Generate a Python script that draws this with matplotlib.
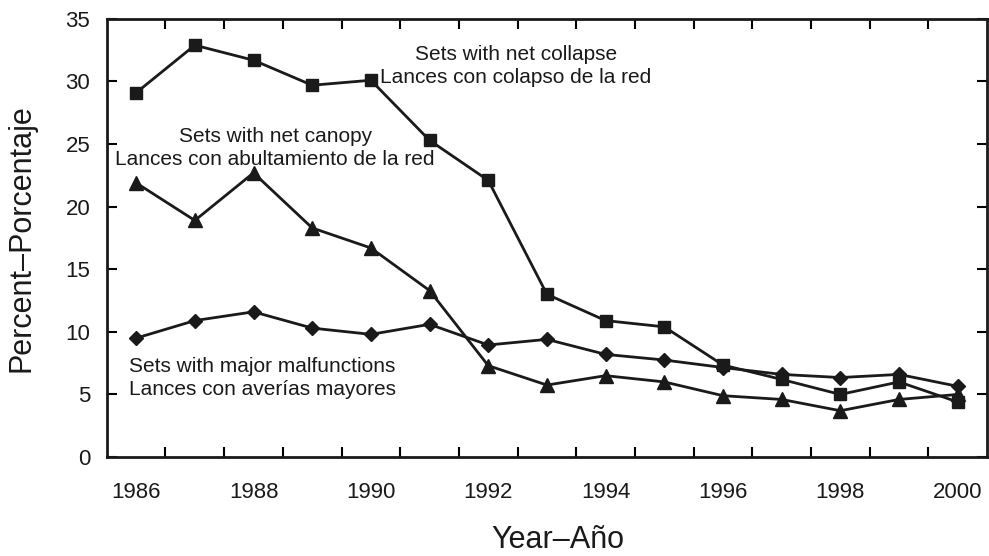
import numpy as np
import matplotlib.pyplot as plt

plt.rcParams['font.family'] = ['Liberation Sans', 'DejaVu Sans']

years = np.arange(1986, 2001)
collapse = [29.1, 32.9, 31.7, 29.7, 30.1, 25.3, 22.1, 13.0, 10.9, 10.4, 7.35, 6.2, 5.0, 6.0, 4.4]
canopy = [21.9, 18.9, 22.7, 18.3, 16.7, 13.3, 7.3, 5.75, 6.5, 6.0, 4.9, 4.6, 3.7, 4.6, 5.0]
malfunctions = [9.5, 10.9, 11.6, 10.3, 9.8, 10.6, 8.95, 9.4, 8.2, 7.75, 7.15, 6.6, 6.35, 6.6, 5.65]

fig = plt.figure(figsize=(9.89, 5.56), dpi=100)
ax = fig.add_axes([0.108, 0.178, 0.89, 0.788])

ax.plot(years, collapse, color='#1a1a1a', lw=2, marker='s', ms=8)
ax.plot(years, canopy, color='#1a1a1a', lw=2, marker='^', ms=10)
ax.plot(years, malfunctions, color='#1a1a1a', lw=2, marker='D', ms=7.5)

ax.set_xlim(1985.5, 2000.5)
ax.set_ylim(0, 35)
ax.set_xticks(np.arange(1986.5, 2000, 1))
ax.set_xticklabels([])
ax.set_xticks(np.arange(1986, 2001, 2), minor=True)
ax.set_xticklabels([str(y) for y in range(1986, 2001, 2)], minor=True)
ax.set_yticks(np.arange(0, 36, 5))
ax.tick_params(axis='x', which='major', direction='in', length=7, width=1.5, top=True)
ax.tick_params(axis='x', which='minor', length=0, pad=18, labelsize=16, labelcolor='#1a1a1a')
ax.tick_params(axis='y', direction='in', length=7, width=1.5, right=True, labelsize=16,
               pad=12, labelcolor='#1a1a1a')
for s in ax.spines.values():
    s.set_linewidth(2)
    s.set_color('#1a1a1a')

ax.set_xlabel('Year–Año', fontsize=22, color='#1a1a1a')
ax.xaxis.set_label_coords(0.512, -0.155)
ax.set_ylabel('Percent–Porcentaje', fontsize=22, color='#1a1a1a')
ax.yaxis.set_label_coords(-0.08, 0.5)

tk = dict(va='baseline', fontsize=15, color='#1a1a1a')
ax.text(1992.47, 31.7, 'Sets with net collapse', ha='center', **tk)
ax.text(1992.47, 29.85, 'Lances con colapso de la red', ha='center', **tk)
ax.text(1988.37, 25.17, 'Sets with net canopy', ha='center', **tk)
ax.text(1988.37, 23.33, 'Lances con abultamiento de la red', ha='center', **tk)
ax.text(1985.88, 6.79, 'Sets with major malfunctions', ha='left', **tk)
ax.text(1985.88, 4.95, 'Lances con averías mayores', ha='left', **tk)

fig.savefig('out.png', dpi=100)
